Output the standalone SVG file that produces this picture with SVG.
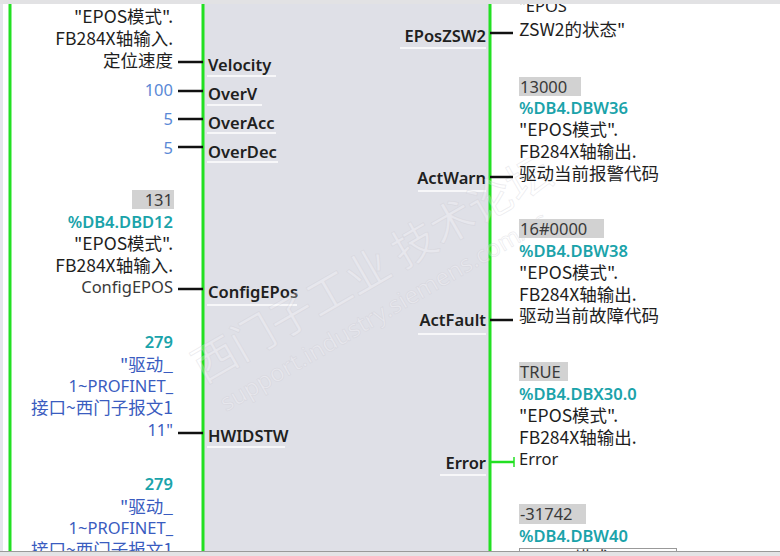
<svg xmlns="http://www.w3.org/2000/svg" width="780" height="556" viewBox="0 0 780 556">
<defs>
<style>
text{font-family:"Noto Sans","Noto Sans CJK SC",sans-serif;font-size:16.5px;fill:#1e1e1e}
.cj{font-family:"Noto Sans CJK SC",sans-serif;font-size:17.5px}
.r{text-anchor:end}
.pin{font-weight:600;fill:#202020}
.num{fill:#5a89d6}
.addr{fill:#1aa3aa;font-weight:600}
.str{fill:#3a5cc0}
.val{fill:#3a3a3a}
.hl{fill:#d2d2d2}
.wire{stroke:#111;stroke-width:2.5}
.green{stroke:#22e022;stroke-width:3}
.ul{stroke:#ffffff;stroke-width:1.5}
.wm{font-family:"Noto Sans CJK SC","Noto Sans",sans-serif;fill:#ffffff;fill-opacity:0.25;stroke:#c8c8d0;stroke-opacity:0.35;stroke-width:0.8}
</style>
<clipPath id="clipMain"><rect x="0" y="4" width="780" height="547"/></clipPath>
</defs>
<rect x="0" y="0" width="780" height="556" fill="#ffffff"/>
<rect x="0" y="0" width="3" height="556" fill="#e6e6ec"/>
<g id="fb-block">
<rect x="203" y="0" width="287" height="556" fill="#dfe0e7"/>
<g clip-path="url(#clipMain)">
<line class="ul" x1="207" y1="76" x2="276" y2="76"/>
<line class="ul" x1="207" y1="105" x2="262" y2="105"/>
<line class="ul" x1="207" y1="133" x2="276" y2="133"/>
<line class="ul" x1="207" y1="162" x2="278" y2="162"/>
<line class="ul" x1="207" y1="305" x2="297" y2="305"/>
<line class="ul" x1="207" y1="447" x2="285" y2="447"/>
<line class="ul" x1="400" y1="48" x2="486" y2="48"/>
<line class="ul" x1="418" y1="191" x2="486" y2="191"/>
<line class="ul" x1="418" y1="334" x2="486" y2="334"/>
<line class="ul" x1="440" y1="475" x2="486" y2="475"/>
<text class="pin" x="208" y="71">Velocity</text>
<text class="pin" x="208" y="100">OverV</text>
<text class="pin" x="208" y="129">OverAcc</text>
<text class="pin" x="208" y="158">OverDec</text>
<text class="pin" x="208" y="298">ConfigEPos</text>
<text class="pin" x="208" y="442">HWIDSTW</text>
<text class="pin r" x="486" y="42">EPosZSW2</text>
<text class="pin r" x="486" y="184">ActWarn</text>
<text class="pin r" x="486" y="326">ActFault</text>
<text class="pin r" x="486" y="469">Error</text>
</g>
<line class="green" x1="203" y1="4" x2="203" y2="551"/>
<line class="green" x1="490" y1="4" x2="490" y2="551"/>
</g>
<line class="green" x1="10" y1="4" x2="10" y2="551"/>

<g id="watermark">
<text class="wm" transform="translate(204,384) rotate(-30)" style="font-size:44px">西门子工业  技术论坛</text>
<text class="wm" transform="translate(226,412) rotate(-30)" style="font-size:24px;font-family:'Noto Sans',sans-serif">support.industry.siemens.com/cs</text>
</g>

<g id="connectors">
<line class="wire" x1="178" y1="62" x2="203" y2="62"/>
<line class="wire" x1="178" y1="91" x2="203" y2="91"/>
<line class="wire" x1="178" y1="119" x2="203" y2="119"/>
<line class="wire" x1="178" y1="147" x2="203" y2="147"/>
<line class="wire" x1="178" y1="289" x2="203" y2="289"/>
<line class="wire" x1="178" y1="433" x2="203" y2="433"/>
<line class="wire" x1="490" y1="33" x2="513" y2="33"/>
<line class="wire" x1="490" y1="177" x2="513" y2="177"/>
<line class="wire" x1="490" y1="320" x2="513" y2="320"/>
<line class="green" x1="490" y1="462" x2="514" y2="462" style="stroke-width:2.5"/>
<line class="green" x1="514" y1="457" x2="514" y2="467" style="stroke-width:1.5"/>
</g>

<g clip-path="url(#clipMain)">
<g id="in-velocity">
<text class="r cj" x="173" y="23">"EPOS模式".</text>
<text class="r cj" x="173" y="45">FB284X轴输入.</text>
<text class="r cj" x="173" y="67">定位速度</text>
</g>
<g id="in-overv"><text class="r num" x="173" y="96">100</text></g>
<g id="in-overacc"><text class="r num" x="173" y="125">5</text></g>
<g id="in-overdec"><text class="r num" x="173" y="154">5</text></g>
<g id="in-configepos">
<rect class="hl" x="132" y="190" width="42" height="19"/>
<text class="r val" x="173" y="206">131</text>
<text class="r addr" x="173" y="228">%DB4.DBD12</text>
<text class="r cj" x="173" y="250">"EPOS模式".</text>
<text class="r cj" x="173" y="272">FB284X轴输入.</text>
<text class="r val" x="173" y="293">ConfigEPOS</text>
</g>
<g id="in-hwidstw">
<text class="r addr" x="173" y="348">279</text>
<text class="r str cj" x="173" y="371">"驱动_</text>
<text class="r str" x="173" y="392">1~PROFINET_</text>
<text class="r str cj" x="173" y="414">接口~西门子报文1</text>
<text class="r str" x="173" y="436">11"</text>
</g>
<g id="in-next">
<text class="r addr" x="173" y="490">279</text>
<text class="r str cj" x="173" y="513">"驱动_</text>
<text class="r str" x="173" y="534">1~PROFINET_</text>
<text class="r str cj" x="173" y="556">接口~西门子报文1</text>
</g>

<g id="out-eposzsw2">
<text x="519" y="12">"EPOS</text>
<text class="cj" x="519" y="36">ZSW2的状态"</text>
</g>
<g id="out-actwarn">
<rect class="hl" x="519" y="77" width="62" height="19"/>
<text class="val" x="520" y="93">13000</text>
<text class="addr" x="519" y="114">%DB4.DBW36</text>
<text class="cj" x="519" y="136">"EPOS模式".</text>
<text class="cj" x="519" y="158">FB284X轴输出.</text>
<text class="cj" x="519" y="180">驱动当前报警代码</text>
</g>
<g id="out-actfault">
<rect class="hl" x="519" y="219" width="85" height="19"/>
<text class="val" x="520" y="235">16#0000</text>
<text class="addr" x="519" y="257">%DB4.DBW38</text>
<text class="cj" x="519" y="279">"EPOS模式".</text>
<text class="cj" x="519" y="301">FB284X轴输出.</text>
<text class="cj" x="519" y="322">驱动当前故障代码</text>
</g>
<g id="out-error">
<rect class="hl" x="519" y="362" width="49" height="19"/>
<text class="val" x="520" y="378">TRUE</text>
<text class="addr" x="519" y="400">%DB4.DBX30.0</text>
<text class="cj" x="519" y="422">"EPOS模式".</text>
<text class="cj" x="519" y="444">FB284X轴输出.</text>
<text x="519" y="465">Error</text>
</g>
<g id="out-next">
<rect class="hl" x="519" y="504" width="67" height="20"/>
<text class="val" x="520" y="520">-31742</text>
<text class="addr" x="519" y="542">%DB4.DBW40</text>
<rect x="519.5" y="548.5" width="157" height="12" fill="none" stroke="#333" stroke-width="1" stroke-dasharray="1,1"/>
<text class="cj" x="521" y="564">"EPOS模式".</text>
</g>
</g>

<rect x="0" y="0" width="780" height="4" fill="#e2e2e4"/>
<rect x="0" y="551" width="780" height="5" fill="#e4e4e6"/>
<line x1="0" y1="551.5" x2="780" y2="551.5" stroke="#9a9a9a" stroke-width="1"/>
</svg>
